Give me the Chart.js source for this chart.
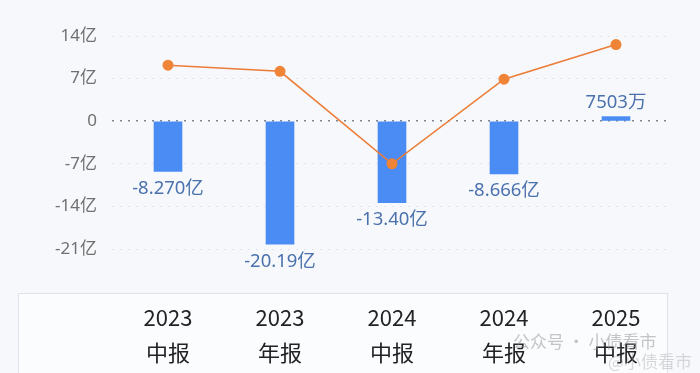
<!DOCTYPE html>
<html>
<head>
<meta charset="utf-8">
<script src="https://cdn.jsdelivr.net/npm/chart.js@4"></script>
<style>
  html, body { margin: 0; padding: 0; background: #f6f8fb; }
  #wrap { position: relative; width: 700px; height: 373px; overflow: hidden; }
  #box { position: absolute; left: 18px; top: 293px; width: 648px; height: 100px; border: 1px solid #dfe2e8; background: #fbfcfe; }
  .wm { position: absolute; font: 17px "Noto Sans CJK SC", sans-serif; color: rgba(140,140,140,0.5); }
  canvas { position: absolute; left: 0; top: 0; }
</style>
</head>
<body>
<div id="wrap">
  <div id="box"></div>
  <canvas id="myChart" width="700" height="373"></canvas>
  <div class="wm" style="left:513px; top:328px;">公众号 · 小债看市</div>
  <div class="wm" style="left:608px; top:348px; color: rgba(150,150,150,0.35);">@小债看市</div>
</div>
<script>
var categories = [['2023', '中报'], ['2023', '年报'], ['2024', '中报'], ['2024', '年报'], ['2025', '中报']]
var barValues = [-8.27, -20.19, -13.40, -8.666, 0.7503]
var barLabels = ['-8.270亿', '-20.19亿', '-13.40亿', '-8.666亿', '7503万']
var lineValues = [9.2, 8.2, -7.0, 6.9, 12.6]
var yTicks = [14, 7, 0, -7, -14, -21]

var labelPlugin = {
    id: 'barLabels',
    afterDatasetsDraw: function(chart) {
        var ctx = chart.ctx
        var meta = chart.getDatasetMeta(0)
        ctx.save()
        ctx.font = '18.5px "Noto Sans", "Noto Sans CJK SC", sans-serif'
        ctx.fillStyle = '#4b72ad'
        ctx.textAlign = 'center'
        meta.data.forEach(function(bar, i) {
            if (barValues[i] < 0) {
                ctx.textBaseline = 'top'
                ctx.fillText(barLabels[i], bar.x, bar.y + 8)
            } else {
                ctx.textBaseline = 'bottom'
                ctx.fillText(barLabels[i], bar.x, bar.y - 5)
            }
        })
        ctx.restore()
    }
}

var ctx = document.getElementById('myChart')
var myChart = new Chart(ctx, {
    data: {
        labels: categories,
        datasets: [{
            type: 'bar',
            data: barValues,
            backgroundColor: '#4b8bf4',
            barThickness: 28,
            order: 2
        }, {
            type: 'line',
            data: lineValues,
            borderColor: '#ec7d38',
            backgroundColor: '#ef8336',
            borderWidth: 1.6,
            pointRadius: 5.5,
            pointBorderWidth: 0,
            tension: 0,
            order: 1
        }]
    },
    options: {
        responsive: false,
        animation: false,
        layout: { padding: { top: 36, right: 28, left: 0, bottom: 0 } },
        plugins: { legend: { display: false }, tooltip: { enabled: false } },
        scales: {
            x: {
                offset: true,
                grid: { display: false },
                border: { display: false },
                afterFit: function(scale) { scale.height = 124 },
                ticks: {
                    color: '#222',
                    padding: 43,
                    maxRotation: 0,
                    font: { size: 22, family: '"Noto Sans CJK SC", sans-serif', lineHeight: 1.6 }
                }
            },
            y: {
                min: -21,
                max: 14,
                afterFit: function(scale) { scale.width = 112 },
                afterBuildTicks: function(scale) {
                    scale.ticks = yTicks.map(function(v) { return { value: v } })
                },
                border: { display: false, dash: [2, 6] },
                grid: {
                    drawTicks: false,
                    color: function(c) { return c.tick.value === 0 ? '#80858f' : '#e1e4ea' },
                    lineWidth: function(c) { return c.tick.value === 0 ? 1.5 : 1 }
                },
                ticks: {
                    color: '#707070',
                    padding: 15,
                    font: { size: 17, family: '"Noto Sans", "Noto Sans CJK SC", sans-serif' },
                    callback: function(v) { return v === 0 ? '0' : v + '亿' }
                }
            }
        }
    },
    plugins: [labelPlugin]
})
</script>
</body>
</html>
